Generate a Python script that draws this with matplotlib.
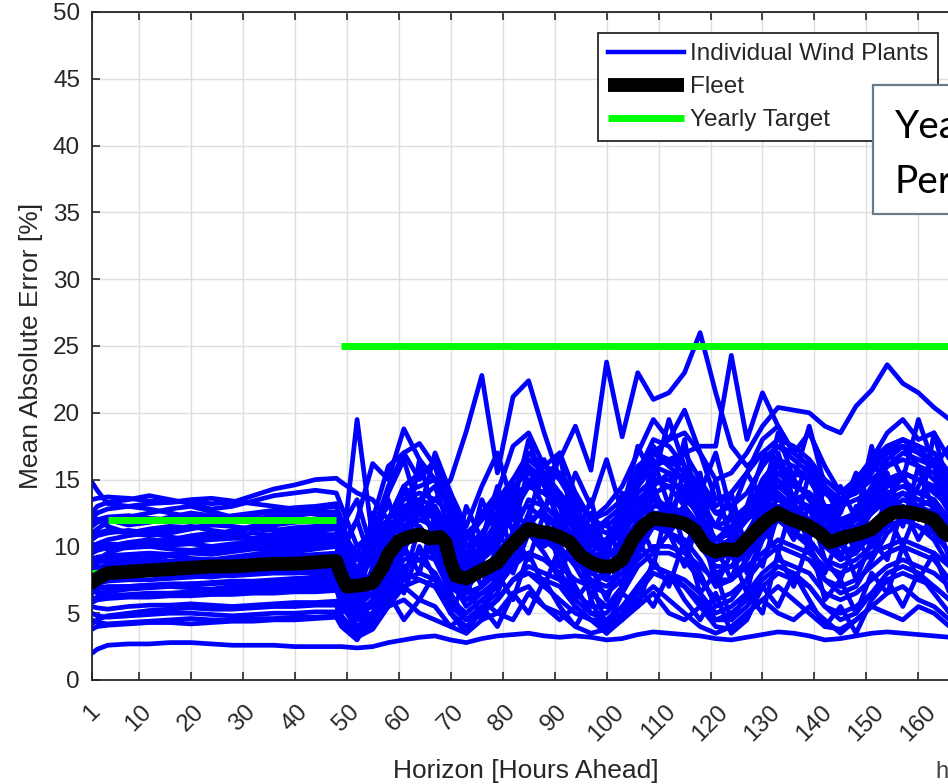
import matplotlib
matplotlib.use("Agg")
import matplotlib.pyplot as plt
from matplotlib.patches import Rectangle
from matplotlib.lines import Line2D

# ---------------- data ----------------
hours_early = [1, 2, 4, 8, 12, 16, 20, 24, 28, 32, 36, 40, 44, 48]
hours_late = [49, 52, 55, 58, 61, 64, 67, 70, 73, 76, 79, 82, 85, 88, 91, 94, 97, 100,
              103, 106, 109, 112, 115, 118, 121, 124, 127, 130, 133, 136, 139, 142, 145,
              148, 151, 154, 157, 160, 163, 166, 168]

plant_01 = [14.8, 14.2, 13.2, 13.0, 13.2, 13.3, 13.4, 13.2, 13.3, 13.8, 14.3, 14.6, 15.0, 15.1,
            14.8, 14.0, 13.5, 12.0, 14.5, 15.5, 16.0, 13.0, 10.5, 12.0, 13.5, 15.0, 16.5, 15.5, 14.0, 12.5, 11.0, 12.0, 13.0, 15.5,
            17.5, 16.0, 17.0, 15.0, 13.0, 14.0, 15.5, 17.0, 16.5, 15.0, 13.5, 12.0, 13.5, 15.0, 16.5, 17.5, 18.0, 17.5, 16.0, 14.0, 13.5]
plant_02 = [8.5, 8.8, 9.0, 9.2, 9.0, 9.3, 9.5, 9.4, 9.6, 9.8, 9.7, 9.9, 10.0, 10.2,
            9.0, 19.5, 10.5, 12.0, 14.5, 13.0, 12.5, 9.0, 7.5, 9.0, 10.0, 12.5, 13.0, 12.0, 11.5, 10.0, 9.0, 9.5, 10.0, 12.0,
            13.5, 13.0, 12.5, 11.0, 10.0, 10.5, 11.0, 13.0, 14.0, 13.0, 12.0, 11.0, 11.5, 12.0, 12.5, 13.5, 14.0, 13.5, 13.0, 11.5, 11.0]
plant_03 = [10.5, 10.8, 11.0, 11.2, 11.0, 11.3, 11.5, 11.2, 11.0, 11.4, 11.8, 12.0, 11.9, 12.0,
            10.0, 12.0, 16.2, 15.0, 18.8, 16.5, 15.0, 12.5, 10.0, 10.5, 11.0, 13.0, 14.5, 14.0, 13.5, 12.0, 11.5, 11.0, 12.0, 14.0,
            15.0, 14.5, 14.5, 13.0, 11.5, 12.0, 12.5, 14.0, 15.5, 14.5, 14.0, 13.0, 13.0, 13.5, 14.0, 15.0, 15.5, 15.0, 14.5, 13.0, 12.5]
plant_04 = [12.0, 12.5, 12.8, 13.0, 12.8, 12.5, 12.2, 12.0, 12.3, 12.5, 12.7, 12.9, 13.0, 13.2,
            11.5, 9.0, 10.5, 12.0, 13.5, 14.0, 13.5, 15.0, 18.6, 22.8, 15.5, 21.2, 22.4, 18.5, 15.0, 13.5, 12.0, 11.5, 12.5, 14.5,
            16.0, 15.5, 15.0, 14.0, 12.5, 12.0, 13.0, 14.5, 16.0, 15.5, 15.0, 14.0, 13.5, 14.0, 15.0, 16.0, 16.5, 16.0, 15.5, 14.0, 13.5]
plant_05 = [11.5, 11.8, 12.0, 11.6, 11.8, 12.2, 12.5, 12.3, 12.0, 12.4, 12.6, 12.5, 12.8, 13.0,
            12.0, 8.0, 9.5, 11.5, 12.5, 13.0, 12.5, 10.0, 9.0, 11.0, 12.5, 14.5, 15.5, 15.0, 16.5, 19.0, 15.7, 23.8, 18.2, 23.0,
            21.0, 21.5, 23.0, 26.0, 21.5, 17.5, 16.0, 17.0, 18.0, 17.5, 16.5, 15.0, 14.0, 15.0, 16.0, 17.0, 17.5, 17.0, 16.5, 15.0, 14.5]
plant_06 = [9.5, 9.8, 10.0, 10.3, 10.5, 10.4, 10.2, 10.6, 10.8, 11.0, 10.8, 11.0, 11.2, 11.3,
            10.0, 6.5, 7.5, 11.0, 13.0, 13.5, 13.0, 10.0, 8.0, 9.5, 11.0, 13.5, 14.5, 14.0, 13.0, 11.5, 10.0, 10.5, 12.0, 14.5,
            16.0, 16.5, 17.0, 17.5, 17.5, 24.3, 18.0, 21.5, 19.0, 17.0, 16.0, 14.0, 13.0, 14.5, 16.0, 17.5, 18.0, 17.0, 16.0, 14.5, 14.0]
plant_07 = [10.0, 10.2, 10.5, 10.8, 11.0, 10.7, 10.5, 10.8, 11.2, 11.5, 11.3, 11.0, 11.2, 11.5,
            11.0, 7.0, 8.0, 11.0, 12.5, 13.0, 12.5, 10.5, 8.5, 10.0, 11.5, 13.5, 14.5, 14.0, 13.0, 12.0, 10.5, 10.5, 12.5, 15.0,
            17.0, 18.0, 18.5, 17.0, 15.0, 15.5, 17.0, 19.0, 20.4, 20.2, 20.0, 19.0, 18.5, 20.5, 21.7, 23.6, 22.2, 21.5, 20.4, 19.5, 19.0]
plant_08 = [2.0, 2.3, 2.6, 2.7, 2.7, 2.8, 2.8, 2.7, 2.6, 2.6, 2.6, 2.5, 2.5, 2.5,
            2.5, 2.4, 2.5, 2.8, 3.0, 3.2, 3.3, 3.0, 2.8, 3.1, 3.3, 3.4, 3.5, 3.3, 3.2, 3.3, 3.2, 3.0, 3.1, 3.4,
            3.6, 3.5, 3.4, 3.3, 3.1, 3.0, 3.2, 3.4, 3.6, 3.5, 3.3, 3.0, 3.1, 3.3, 3.5, 3.6, 3.5, 3.4, 3.3, 3.2, 3.1]
plant_09 = [4.5, 4.3, 4.2, 4.3, 4.4, 4.5, 4.6, 4.5, 4.5, 4.6, 4.6, 4.7, 4.7, 4.8,
            4.5, 3.2, 3.8, 5.5, 7.0, 6.0, 5.5, 4.0, 3.5, 4.5, 5.0, 6.5, 7.0, 5.5, 5.0, 4.0, 3.5, 3.8, 4.5, 6.0,
            7.0, 6.0, 5.0, 4.0, 3.5, 4.0, 5.0, 6.0, 7.0, 6.0, 5.0, 4.0, 3.8, 4.5, 5.5, 6.5, 7.0, 6.0, 5.5, 4.5, 4.5]
plant_10 = [5.0, 4.8, 4.7, 4.8, 4.9, 5.0, 5.0, 4.9, 4.8, 4.9, 5.0, 5.0, 5.1, 5.1,
            4.8, 3.5, 4.5, 6.5, 8.0, 7.5, 7.0, 5.0, 4.0, 5.0, 6.0, 7.5, 8.0, 7.0, 6.0, 5.0, 4.5, 4.5, 5.0, 7.0,
            8.5, 8.0, 7.0, 6.0, 4.5, 5.0, 6.0, 7.5, 8.5, 8.0, 7.0, 5.5, 5.0, 5.5, 6.5, 8.0, 8.5, 8.0, 7.0, 6.0, 5.5]
plant_11 = [5.5, 5.4, 5.3, 5.5, 5.6, 5.6, 5.7, 5.6, 5.5, 5.6, 5.7, 5.8, 5.8, 5.9,
            5.5, 4.5, 5.0, 5.5, 6.0, 5.0, 4.5, 4.0, 5.0, 6.0, 5.0, 4.5, 6.5, 5.5, 4.5, 5.5, 4.5, 3.5, 4.5, 5.5,
            6.5, 5.0, 4.5, 5.5, 4.0, 3.8, 5.0, 6.0, 5.0, 4.5, 5.5, 4.5, 3.5, 4.5, 5.5, 5.0, 4.5, 5.5, 5.0, 4.0, 4.2]
plant_12 = [6.0, 6.2, 6.3, 6.4, 6.5, 6.5, 6.6, 6.7, 6.7, 6.8, 6.9, 7.0, 7.0, 7.1,
            6.0, 5.0, 5.5, 7.5, 9.0, 9.5, 9.0, 7.0, 6.0, 6.5, 7.5, 9.0, 9.5, 9.0, 8.5, 7.5, 7.0, 6.5, 7.5, 9.0,
            10.0, 10.0, 9.5, 8.5, 7.5, 7.5, 8.5, 9.5, 10.5, 10.0, 9.5, 8.5, 8.0, 8.5, 9.5, 10.0, 10.5, 10.0, 9.5, 8.5, 8.0]
plant_13 = [6.5, 6.8, 7.0, 7.0, 7.1, 7.2, 7.2, 7.3, 7.4, 7.4, 7.5, 7.6, 7.7, 7.8,
            6.5, 4.5, 5.0, 6.5, 8.5, 9.0, 8.0, 6.0, 5.0, 6.0, 7.0, 8.5, 9.5, 9.0, 8.0, 6.5, 5.5, 5.5, 6.5, 8.5,
            9.5, 9.5, 9.0, 7.5, 6.0, 6.5, 7.5, 9.0, 10.0, 9.5, 9.0, 7.5, 7.0, 7.5, 8.5, 9.5, 10.0, 9.5, 9.0, 7.5, 7.0]
plant_14 = [7.0, 7.2, 7.4, 7.5, 7.5, 7.6, 7.7, 7.8, 7.8, 7.9, 8.0, 8.0, 8.1, 8.2,
            6.0, 3.5, 4.0, 7.0, 10.0, 11.0, 10.5, 7.5, 5.5, 6.5, 7.0, 9.0, 11.0, 10.5, 10.0, 8.5, 6.5, 5.5, 7.0, 10.0,
            11.5, 11.0, 10.5, 9.0, 7.0, 7.5, 9.0, 11.0, 12.0, 11.0, 10.5, 9.0, 8.5, 9.0, 10.0, 11.5, 12.0, 11.5, 11.0, 9.5, 9.0]
plant_15 = [7.2, 7.0, 6.9, 7.0, 7.1, 7.1, 7.2, 7.2, 7.3, 7.3, 7.4, 7.4, 7.5, 7.5,
            7.0, 5.5, 6.5, 9.0, 11.5, 12.5, 11.0, 8.0, 6.0, 7.0, 8.0, 10.5, 12.0, 12.5, 11.0, 9.0, 7.5, 7.0, 8.0, 10.5,
            12.5, 12.5, 11.5, 10.0, 8.5, 8.5, 9.5, 11.5, 13.0, 12.5, 11.5, 10.0, 9.0, 9.5, 11.0, 12.5, 13.0, 12.5, 12.0, 10.5, 10.0]
plant_16 = [7.8, 7.9, 8.0, 8.0, 8.1, 8.2, 8.2, 8.3, 8.4, 8.4, 8.5, 8.5, 8.6, 8.7,
            7.5, 6.0, 6.5, 8.0, 9.5, 9.0, 10.0, 8.5, 7.0, 8.5, 9.0, 10.0, 11.5, 10.0, 11.0, 9.0, 8.0, 8.5, 9.5, 11.0,
            12.0, 11.0, 12.5, 10.0, 9.0, 9.5, 10.0, 11.5, 12.5, 11.0, 12.0, 10.5, 9.5, 10.0, 10.5, 12.0, 12.5, 13.0, 12.0, 11.0, 10.5]
plant_17 = [6.2, 6.0, 6.1, 6.2, 6.2, 6.3, 6.3, 6.4, 6.4, 6.5, 6.5, 6.6, 6.6, 6.7,
            6.0, 4.0, 5.0, 7.5, 10.5, 11.5, 10.0, 6.5, 4.5, 5.5, 6.5, 9.5, 11.0, 10.5, 9.5, 7.0, 5.0, 5.0, 6.5, 9.5,
            11.5, 11.0, 10.0, 8.0, 5.5, 6.0, 7.5, 10.5, 12.0, 11.0, 10.0, 7.5, 6.5, 7.0, 9.0, 11.0, 12.0, 11.5, 10.5, 8.5, 8.0]
plant_18 = [8.0, 8.4, 8.6, 8.7, 8.8, 8.9, 9.0, 9.0, 9.1, 9.2, 9.3, 9.3, 9.4, 9.5,
            8.5, 6.0, 7.0, 10.0, 12.5, 13.0, 12.0, 9.0, 7.0, 8.0, 9.0, 11.0, 13.5, 13.0, 12.0, 10.5, 8.5, 8.0, 9.0, 12.0,
            14.0, 14.5, 13.0, 11.0, 9.0, 9.5, 11.0, 13.0, 14.5, 13.5, 13.0, 11.0, 10.0, 11.0, 12.5, 14.0, 14.5, 14.0, 13.5, 11.5, 11.0]
plant_19 = [9.0, 9.2, 9.3, 9.4, 9.5, 9.4, 9.6, 9.7, 9.8, 9.9, 10.0, 10.0, 10.1, 10.2,
            8.0, 5.0, 6.0, 8.5, 11.0, 12.0, 11.5, 8.5, 6.5, 7.0, 8.5, 10.0, 12.0, 12.5, 11.5, 10.0, 8.0, 7.5, 8.0, 11.0,
            13.0, 13.0, 12.5, 10.5, 8.0, 8.5, 10.0, 12.5, 13.5, 13.0, 12.0, 10.5, 9.5, 10.0, 11.5, 13.0, 14.0, 13.5, 13.0, 11.0, 10.5]
plant_20 = [9.8, 10.0, 10.2, 10.1, 10.3, 10.4, 10.4, 10.5, 10.6, 10.6, 10.7, 10.8, 10.8, 10.9,
            9.5, 7.0, 8.0, 10.5, 12.5, 13.0, 12.5, 10.5, 8.0, 9.0, 10.5, 12.5, 14.5, 14.0, 13.0, 11.0, 9.5, 9.0, 10.5, 13.0,
            15.0, 15.0, 14.0, 12.0, 10.0, 10.5, 12.0, 14.5, 15.5, 14.5, 14.0, 12.0, 11.0, 12.0, 13.5, 15.0, 15.5, 15.0, 14.5, 12.5, 12.0]
plant_21 = [11.8, 12.0, 12.2, 12.3, 12.1, 12.0, 11.8, 11.9, 12.0, 11.8, 11.6, 11.8, 11.9, 11.8,
            10.5, 8.0, 12.0, 16.0, 17.0, 17.7, 16.0, 12.0, 9.0, 10.0, 12.0, 14.0, 16.5, 16.0, 15.0, 13.0, 11.0, 10.0, 11.0, 14.5,
            17.0, 16.5, 15.5, 13.5, 11.5, 11.0, 12.5, 15.0, 16.5, 16.0, 15.0, 13.0, 12.0, 12.5, 14.0, 16.0, 17.0, 16.5, 16.0, 14.5, 14.0]
plant_22 = [13.5, 13.6, 13.7, 13.6, 13.4, 13.3, 13.5, 13.6, 13.4, 13.2, 13.0, 12.8, 12.6, 12.5,
            11.0, 9.5, 11.5, 13.0, 12.0, 13.5, 14.5, 11.0, 8.5, 9.5, 11.5, 12.0, 15.0, 13.0, 14.0, 11.5, 9.5, 10.5, 11.0, 13.0,
            14.0, 12.5, 14.5, 12.0, 10.5, 11.0, 12.0, 13.5, 15.0, 13.5, 14.0, 12.5, 11.0, 12.0, 13.0, 14.5, 15.0, 14.0, 14.5, 13.0, 12.5]
plant_23 = [10.8, 11.0, 11.2, 11.0, 11.3, 11.5, 11.4, 11.6, 11.5, 11.3, 11.2, 11.4, 11.5, 11.6,
            10.0, 7.5, 9.0, 11.0, 13.0, 12.5, 13.5, 12.5, 10.0, 11.0, 12.5, 14.0, 14.5, 15.5, 13.0, 12.0, 10.5, 10.0, 11.5, 13.5,
            14.5, 15.5, 13.5, 12.5, 10.5, 11.0, 12.5, 13.5, 15.5, 15.0, 13.5, 12.0, 11.5, 12.5, 13.0, 14.5, 15.5, 15.0, 14.0, 13.0, 12.5]
plant_24 = [12.5, 13.0, 13.3, 13.5, 13.8, 13.5, 13.2, 12.8, 13.0, 13.4, 13.8, 14.0, 14.2, 14.0,
            13.0, 10.0, 11.0, 12.0, 14.0, 14.5, 15.0, 13.5, 11.0, 12.0, 13.0, 15.0, 17.0, 16.0, 15.5, 14.0, 12.0, 12.5, 13.5, 15.5,
            18.0, 17.5, 16.0, 14.5, 12.5, 13.0, 14.0, 16.0, 17.5, 17.0, 16.0, 14.5, 13.5, 14.0, 15.5, 17.0, 18.0, 17.5, 17.0, 15.5, 15.0]
plant_25 = [9.2, 9.0, 8.8, 9.0, 9.2, 9.3, 9.1, 9.0, 9.2, 9.4, 9.5, 9.6, 9.8, 10.0,
            9.0, 7.5, 11.0, 14.5, 17.0, 15.0, 16.5, 14.0, 10.5, 12.5, 14.0, 17.5, 18.5, 16.0, 17.0, 14.0, 12.0, 13.0, 14.5, 17.0,
            19.5, 18.0, 20.2, 17.0, 13.5, 14.0, 15.5, 18.0, 19.0, 17.0, 18.5, 16.0, 14.0, 15.0, 16.5, 18.5, 19.5, 18.0, 18.5, 16.5, 16.0]
plant_26 = [8.3, 8.5, 8.4, 8.6, 8.7, 8.8, 8.7, 8.9, 9.0, 9.1, 9.0, 9.2, 9.3, 9.3,
            8.0, 6.0, 8.0, 10.5, 12.0, 13.0, 12.0, 9.5, 7.5, 9.0, 11.0, 15.0, 16.0, 15.0, 13.5, 11.0, 9.0, 10.0, 11.5, 16.0,
            17.0, 16.0, 15.0, 12.5, 10.5, 11.5, 13.0, 16.5, 17.5, 16.5, 15.5, 13.0, 11.5, 12.5, 14.5, 16.5, 17.5, 16.0, 15.0, 13.5, 13.0]
plant_27 = [5.8, 6.0, 6.2, 6.3, 6.3, 6.4, 6.5, 6.5, 6.6, 6.6, 6.7, 6.8, 6.8, 6.9,
            5.5, 4.0, 4.5, 6.0, 7.5, 8.0, 7.5, 6.0, 4.5, 5.0, 6.0, 7.5, 8.5, 8.0, 7.5, 6.0, 5.0, 4.5, 5.5, 7.0,
            8.5, 8.0, 7.5, 6.5, 5.0, 5.5, 6.5, 8.0, 9.0, 8.5, 8.0, 6.5, 6.0, 6.5, 7.5, 8.5, 9.0, 8.5, 8.0, 7.0, 6.8]
plant_28 = [7.5, 7.6, 7.7, 7.8, 7.9, 7.9, 8.0, 8.0, 8.1, 8.2, 8.2, 8.3, 8.4, 8.5,
            7.0, 6.5, 7.0, 9.5, 11.0, 10.5, 11.5, 9.0, 8.0, 8.0, 9.5, 11.0, 12.0, 11.0, 11.5, 10.0, 9.0, 8.5, 9.5, 11.5,
            12.5, 12.0, 12.5, 11.0, 10.0, 9.5, 10.5, 12.0, 13.0, 12.5, 12.0, 11.0, 10.5, 10.5, 11.5, 12.5, 13.5, 13.0, 12.5, 11.5, 11.0]
plant_29 = [10.2, 10.0, 9.8, 9.9, 10.0, 10.1, 10.2, 10.0, 10.2, 10.3, 10.4, 10.5, 10.6, 10.6,
            9.5, 8.0, 9.5, 12.0, 11.0, 12.5, 13.0, 11.0, 9.5, 10.5, 11.0, 12.5, 11.5, 13.0, 12.0, 10.5, 10.0, 10.5, 11.0, 12.5,
            13.5, 12.0, 13.0, 11.5, 10.5, 11.5, 12.0, 13.0, 14.0, 12.5, 13.0, 11.5, 11.0, 11.5, 12.5, 13.5, 14.0, 13.0, 13.5, 12.0, 11.5]
plant_30 = [4.2, 4.5, 4.8, 5.0, 5.2, 5.3, 5.4, 5.3, 5.3, 5.4, 5.5, 5.5, 5.6, 5.6,
            4.5, 3.8, 4.5, 6.0, 7.0, 7.5, 7.0, 5.5, 4.5, 5.0, 6.0, 7.5, 8.0, 7.5, 7.0, 5.5, 4.5, 4.0, 5.0, 6.5,
            8.0, 7.5, 7.0, 5.5, 4.5, 4.5, 5.5, 7.0, 8.0, 7.5, 7.0, 5.5, 4.5, 5.0, 6.5, 7.5, 8.0, 7.5, 7.0, 6.0, 5.5]
plant_31 = [8.8, 9.0, 9.5, 10.0, 10.3, 10.5, 10.8, 11.0, 10.7, 10.5, 10.9, 11.2, 11.0, 10.8,
            9.5, 12.0, 8.5, 11.5, 9.5, 13.5, 10.5, 12.5, 9.0, 13.5, 11.0, 9.5, 12.5, 15.5, 11.0, 13.5, 10.0, 12.0, 8.5, 11.5,
            14.5, 11.0, 16.0, 13.0, 11.5, 14.0, 9.5, 12.5, 16.5, 12.5, 10.5, 14.5, 12.0, 9.5, 13.0, 15.5, 12.0, 14.5, 16.5, 12.5, 12.0]
plant_32 = [7.0, 7.3, 7.6, 7.9, 8.1, 8.0, 7.8, 7.7, 7.9, 8.0, 8.2, 8.1, 8.0, 8.1,
            6.5, 5.0, 8.5, 6.0, 10.0, 8.0, 12.5, 9.5, 6.5, 9.0, 7.0, 11.0, 9.0, 12.5, 8.5, 10.5, 6.0, 9.0, 7.0, 10.5,
            8.5, 13.5, 10.0, 12.0, 7.0, 9.5, 6.5, 11.5, 9.5, 13.5, 10.0, 8.0, 11.0, 7.5, 10.5, 9.0, 13.0, 10.5, 12.5, 9.0, 9.5]
plant_33 = [11.0, 11.3, 11.8, 12.2, 12.5, 12.8, 13.0, 12.6, 12.2, 12.0, 12.3, 12.6, 12.4, 12.2,
            8.5, 5.5, 10.5, 13.5, 10.0, 16.5, 12.0, 8.0, 13.0, 10.5, 14.5, 11.0, 16.0, 12.5, 17.0, 10.5, 13.5, 9.0, 14.0, 11.5,
            16.5, 13.0, 18.0, 11.5, 15.0, 10.0, 13.0, 11.0, 17.0, 13.5, 16.5, 10.5, 14.5, 12.0, 17.5, 13.0, 15.5, 12.0, 18.5, 14.0, 13.0]
plant_34 = [6.8, 6.5, 6.6, 6.8, 6.9, 7.0, 6.9, 6.8, 7.0, 7.1, 7.2, 7.1, 7.3, 7.4,
            5.0, 7.0, 4.0, 8.5, 6.5, 10.0, 7.5, 5.0, 7.5, 4.5, 8.0, 6.0, 9.5, 7.0, 10.0, 6.0, 7.5, 4.0, 6.5, 5.5,
            9.0, 7.0, 10.5, 6.5, 8.0, 4.5, 6.5, 5.0, 9.5, 7.0, 10.5, 6.0, 7.5, 5.0, 8.0, 6.5, 10.0, 7.5, 9.5, 6.5, 6.0]
plant_35 = [12.2, 12.0, 11.5, 11.0, 10.8, 11.0, 11.3, 11.6, 11.9, 12.1, 12.0, 12.3, 12.5, 12.6,
            11.5, 13.5, 9.5, 14.0, 16.5, 12.5, 17.0, 14.0, 11.5, 14.5, 17.0, 13.0, 18.0, 14.5, 12.0, 15.5, 13.0, 16.5, 12.5, 17.5,
            15.0, 19.5, 16.0, 14.0, 17.0, 12.5, 15.5, 13.5, 18.5, 15.0, 19.0, 14.5, 12.5, 15.5, 13.0, 17.5, 15.0, 19.5, 16.0, 17.5, 16.0]
plant_36 = [3.8, 4.0, 4.1, 4.2, 4.3, 4.3, 4.2, 4.3, 4.4, 4.4, 4.5, 4.5, 4.6, 4.7,
            4.0, 3.0, 5.0, 6.5, 4.5, 6.0, 8.0, 5.0, 3.5, 5.5, 4.0, 6.5, 5.0, 7.5, 5.5, 4.0, 6.0, 3.5, 5.0, 7.0,
            5.5, 8.0, 6.0, 4.5, 6.5, 3.5, 4.5, 7.0, 5.5, 8.0, 6.0, 4.0, 5.5, 3.5, 6.0, 7.5, 5.5, 8.0, 6.5, 5.0, 5.0]
plant_37 = [9.5, 9.7, 9.9, 10.1, 10.0, 9.8, 9.7, 9.9, 10.0, 10.1, 10.3, 10.2, 10.4, 10.5,
            9.0, 6.5, 12.5, 9.0, 14.5, 11.0, 9.5, 12.0, 7.0, 10.5, 13.5, 9.0, 12.0, 16.5, 13.0, 9.5, 12.5, 7.5, 11.0, 9.0,
            14.5, 11.5, 13.0, 15.5, 9.5, 12.5, 8.0, 10.5, 14.0, 11.0, 15.5, 12.5, 9.0, 13.0, 10.0, 14.0, 11.5, 16.0, 12.5, 10.5, 10.0]
plant_38 = [8.2, 8.0, 7.9, 8.0, 8.2, 8.3, 8.5, 8.6, 8.5, 8.7, 8.8, 8.9, 9.0, 9.1,
            7.5, 4.5, 6.0, 9.0, 7.5, 11.5, 9.0, 6.5, 9.5, 7.0, 10.0, 8.0, 11.0, 9.5, 7.5, 11.5, 8.5, 6.0, 9.0, 12.0,
            9.5, 11.0, 8.5, 12.5, 10.0, 7.5, 11.0, 8.5, 12.5, 10.5, 13.0, 9.0, 7.5, 10.5, 9.0, 12.5, 10.0, 13.0, 11.0, 9.5, 9.0]

fleet_hours = [1, 2, 4, 8, 12, 16, 20, 24, 28, 32, 36, 40, 44, 47, 48,
               49, 50, 53, 55, 57, 58, 60, 62, 64, 66, 68, 69, 70, 71, 73, 75, 77, 79, 81, 83,
               85, 87, 89, 91, 93, 95, 97, 99, 101, 103, 105, 107, 109, 111, 113, 115, 117, 119,
               121, 123, 125, 127, 129, 131, 133, 135, 137, 139, 141, 143, 145, 147, 149, 151,
               153, 155, 157, 159, 161, 163, 165, 167, 168]
fleet_mae = [7.3, 7.6, 8.0, 8.1, 8.2, 8.3, 8.4, 8.5, 8.5, 8.6, 8.7, 8.7, 8.8, 8.9, 8.9,
             7.8, 7.0, 7.1, 7.3, 8.5, 9.4, 10.4, 10.7, 10.9, 10.6, 10.7, 10.3, 8.8, 7.8, 7.6, 8.0, 8.4, 8.8, 9.8, 10.6,
             11.3, 11.1, 11.0, 10.7, 10.3, 9.3, 8.8, 8.5, 8.5, 9.0, 10.5, 11.5, 12.1, 12.0, 11.9, 11.7, 11.2, 10.0,
             9.6, 9.8, 9.7, 10.5, 11.3, 12.0, 12.5, 12.1, 11.8, 11.5, 11.0, 10.3, 10.6, 10.8, 11.0, 11.3,
             12.0, 12.5, 12.6, 12.5, 12.3, 12.0, 11.0, 10.6, 10.5]

target_start = [1, 4, 49]
target_end = [3, 48, 168]
target_mae = [8, 12, 25]

xtick_hours = [1, 10, 20, 30, 40, 50, 60, 70, 80, 90, 100, 110, 120, 130, 140, 150, 160]
xtick_labels = [str(h) for h in xtick_hours]
ytick_vals = [0, 5, 10, 15, 20, 25, 30, 35, 40, 45, 50]

legend_labels = ["Individual Wind Plants", "Fleet", "Yearly Target"]

plants = [plant_01, plant_02, plant_03, plant_04, plant_05, plant_06, plant_07, plant_08,
          plant_09, plant_10, plant_11, plant_12, plant_13, plant_14, plant_15, plant_16,
          plant_17, plant_18, plant_19, plant_20, plant_21, plant_22, plant_23, plant_24,
          plant_25, plant_26, plant_27, plant_28, plant_29, plant_30, plant_31, plant_32,
          plant_33, plant_34, plant_35, plant_36, plant_37, plant_38]
horizon_hours = hours_early + hours_late
for p in plants:
    assert len(p) == len(horizon_hours), len(p)
assert len(fleet_hours) == len(fleet_mae)

# ---------------- style ----------------
plt.rcParams['font.family'] = ['Liberation Sans', 'DejaVu Sans']
TXT = '#262626'
BLUE = (0, 0, 1)
GREEN = (0, 1, 0)

W, H = 948, 784
fig = plt.figure(figsize=(W / 100, H / 100), dpi=100)
fig.patch.set_facecolor('white')
ax_l, ax_r, ax_t, ax_b = 92, 960, 12, 680
ax = fig.add_axes([ax_l / W, 1 - ax_b / H, (ax_r - ax_l) / W, (ax_b - ax_t) / H])

for p in plants:
    ax.plot(horizon_hours, p, color=BLUE, lw=3.4, solid_joinstyle='round',
            solid_capstyle='round', zorder=2)
for s, e, v in zip(target_start, target_end, target_mae):
    ax.plot([s, e], [v, v], color=GREEN, lw=5, solid_capstyle='butt', zorder=3)
ax.plot(fleet_hours, fleet_mae, color='black', lw=10, solid_joinstyle='round',
        solid_capstyle='round', zorder=4)

ax.set_xlim(1, 168)
ax.set_ylim(0, 50)
ax.set_xticks(xtick_hours)
ax.set_xticklabels(xtick_labels, rotation=45, ha='center')
ax.set_yticks(ytick_vals)
ax.grid(True, color='#dedede', lw=1.0)
ax.set_axisbelow(True)
ax.tick_params(axis='both', direction='in', length=6, width=1.2, colors=TXT,
               labelsize=17.5, top=True, right=True)
ax.tick_params(axis='x', pad=15)
ax.tick_params(axis='y', pad=8.6)
for sp in ax.spines.values():
    sp.set_color(TXT)
    sp.set_linewidth(1.3)

ax.set_xlabel("Horizon [Hours Ahead]", fontsize=19, color=TXT, va='top')
ax.xaxis.set_label_coords(0.5, (ax_b - 759) / (ax_b - ax_t))
ax.set_ylabel("Mean Absolute Error [%]", fontsize=19, color=TXT)
ax.yaxis.set_label_coords((43 - ax_l) / (ax_r - ax_l), 0.5)

handles = [Line2D([], [], color=BLUE, lw=3.2),
           Line2D([], [], color='black', lw=10, solid_capstyle='butt'),
           Line2D([], [], color=GREEN, lw=5, solid_capstyle='butt')]
leg = ax.legend(handles, legend_labels, loc='upper left',
                bbox_to_anchor=(598 / W, 1 - 33 / H), bbox_transform=fig.transFigure,
                borderaxespad=0, fontsize=17.5, frameon=True, fancybox=False,
                edgecolor=TXT, framealpha=1, handlelength=3.1, handletextpad=0.25,
                labelspacing=0.45, borderpad=0.42)
leg.get_frame().set_linewidth(1.3)
leg.set_zorder(10)
for t in leg.get_texts():
    t.set_color(TXT)

# overlaid slide text box (cropped at the right edge, as in the source)
box = Rectangle((873 / W, 1 - 214 / H), (990 - 873) / W, (214 - 85) / H,
                transform=fig.transFigure, facecolor='white', edgecolor='#687b88',
                lw=1.6, zorder=20)
fig.add_artist(box)
fig.text(895 / W, 1 - 138 / H, "Yearly", fontsize=28, family=['Lato', 'DejaVu Sans'],
         color='black', va='baseline', ha='left', zorder=21)
fig.text(895 / W, 1 - 193 / H, "Performance", fontsize=28, family=['Lato', 'DejaVu Sans'],
         color='black', va='baseline', ha='left', zorder=21)
fig.text(935 / W, 1 - 778 / H, "h", fontsize=17, color='#404040', va='baseline', ha='left')

fig.savefig("out.png", dpi=100)
